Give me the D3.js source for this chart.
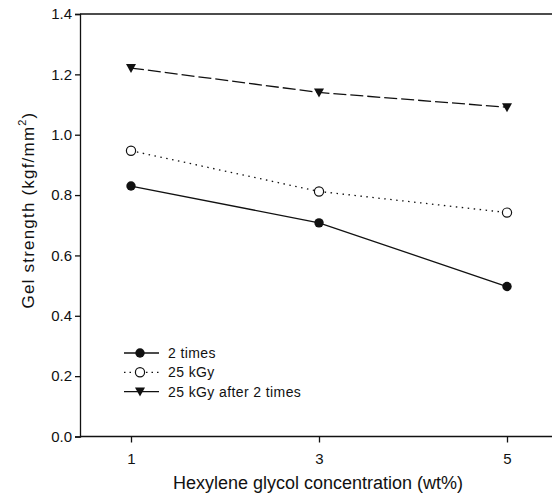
<!DOCTYPE html>
<html>
<head>
<meta charset="utf-8">
<script src="https://cdn.jsdelivr.net/npm/d3@7"></script>
<style>
  body { margin: 0; background: #fff; }
  text { font-family: "Liberation Sans", Arial, sans-serif; fill: #111; }
</style>
</head>
<body>
<script>
// data
const concentrations = [1, 3, 5];
const twoTimes = [0.830, 0.708, 0.497];
const kGy25 = [0.947, 0.812, 0.742];
const kGy25After = [1.221, 1.140, 1.091];
const seriesNames = ["2 times", "25 kGy", "25 kGy after 2 times"];
const yTicks = [0.0, 0.2, 0.4, 0.6, 0.8, 1.0, 1.2, 1.4];

const W = 552, H = 496;
const plotLeft = 80, plotRight = 552, plotTop = 14, plotBottom = 436.5;

const svg = d3.select("body").append("svg")
  .attr("width", W)
  .attr("height", H);

const x = d3.scaleLinear().domain([1, 5]).range([131, 507]);
const y = d3.scaleLinear().domain([0, 1.4]).range([plotBottom, plotTop]);

// frame: top line, left axis, bottom axis (right side cropped)
svg.append("line")
  .attr("x1", plotLeft).attr("x2", plotRight)
  .attr("y1", plotTop).attr("y2", plotTop)
  .attr("stroke", "#111").attr("stroke-width", 1.3);

const yAxis = svg.append("g")
  .attr("transform", `translate(${plotLeft},0)`)
  .call(d3.axisLeft(y).tickValues(yTicks).tickFormat(d3.format(".1f")).tickSize(5).tickPadding(3));

const xAxis = svg.append("g")
  .attr("transform", `translate(0,${plotBottom})`)
  .call(d3.axisBottom(x).tickValues(concentrations).tickFormat(d3.format("d")).tickSize(6).tickPadding(11));

xAxis.select(".domain").attr("d", `M${plotLeft},0H${plotRight}`);

[yAxis, xAxis].forEach(a => {
  a.attr("font-size", null).attr("font-family", null);
  a.selectAll("path, line").attr("stroke", "#111").attr("stroke-width", 1.3);
  a.selectAll("text")
    .style("font-size", "15px")
    .attr("fill", "#111");
});

// axis titles
svg.append("text")
  .attr("x", 318)
  .attr("y", 489)
  .attr("text-anchor", "middle")
  .style("font-size", "18px")
  .text("Hexylene glycol concentration (wt%)");

const yTitle = svg.append("text")
  .attr("transform", "translate(34,210) rotate(-90)")
  .attr("text-anchor", "middle")
  .style("font-size", "17px")
  .attr("letter-spacing", "1.2px");
yTitle.append("tspan").text("Gel strength (kgf/mm");
yTitle.append("tspan").style("font-size", "11px").attr("dy", -8).text("2");
yTitle.append("tspan").attr("dy", 8).text(")");

const line = d3.line()
  .x((d, i) => x(concentrations[i]))
  .y(d => y(d));

const series = [
  { name: seriesNames[0], values: twoTimes, dash: null, marker: "filled" },
  { name: seriesNames[1], values: kGy25, dash: "1.5,4.5", marker: "open" },
  { name: seriesNames[2], values: kGy25After, dash: "13,4", marker: "tri" }
];

const triangle = "M-5,-4L5,-4L0,5Z";

function drawMarker(g, kind) {
  if (kind === "filled") {
    g.append("circle").attr("r", 4.7).attr("fill", "#111");
  } else if (kind === "open") {
    g.append("circle").attr("r", 4.6).attr("fill", "#fff").attr("stroke", "#111").attr("stroke-width", 1.2);
  } else {
    g.append("path").attr("d", triangle).attr("fill", "#111");
  }
}

series.forEach(s => {
  svg.append("path")
    .datum(s.values)
    .attr("d", line)
    .attr("fill", "none")
    .attr("stroke", "#111")
    .attr("stroke-width", 1.3)
    .attr("stroke-dasharray", s.dash);

  svg.selectAll(null)
    .data(s.values)
    .enter()
    .append("g")
      .attr("transform", (d, i) => `translate(${x(concentrations[i])},${y(d)})`)
      .each(function () { drawMarker(d3.select(this), s.marker); });
});

// legend
const legend = svg.append("g").attr("transform", "translate(124,353)");
series.forEach((s, i) => {
  const row = legend.append("g").attr("transform", `translate(0,${i * 19.3})`);
  row.append("line")
    .attr("x1", 0).attr("x2", 35)
    .attr("y1", 0).attr("y2", 0)
    .attr("stroke", "#111")
    .attr("stroke-width", 1.3)
    .attr("stroke-dasharray", i === 1 ? "1.5,4" : null);
  const m = row.append("g").attr("transform", "translate(16,0)");
  drawMarker(m, s.marker);
  row.append("text")
    .attr("x", 44)
    .attr("y", 5)
    .style("font-size", "14px")
    .attr("letter-spacing", "0.4px")
    .text(s.name);
});
</script>
</body>
</html>
